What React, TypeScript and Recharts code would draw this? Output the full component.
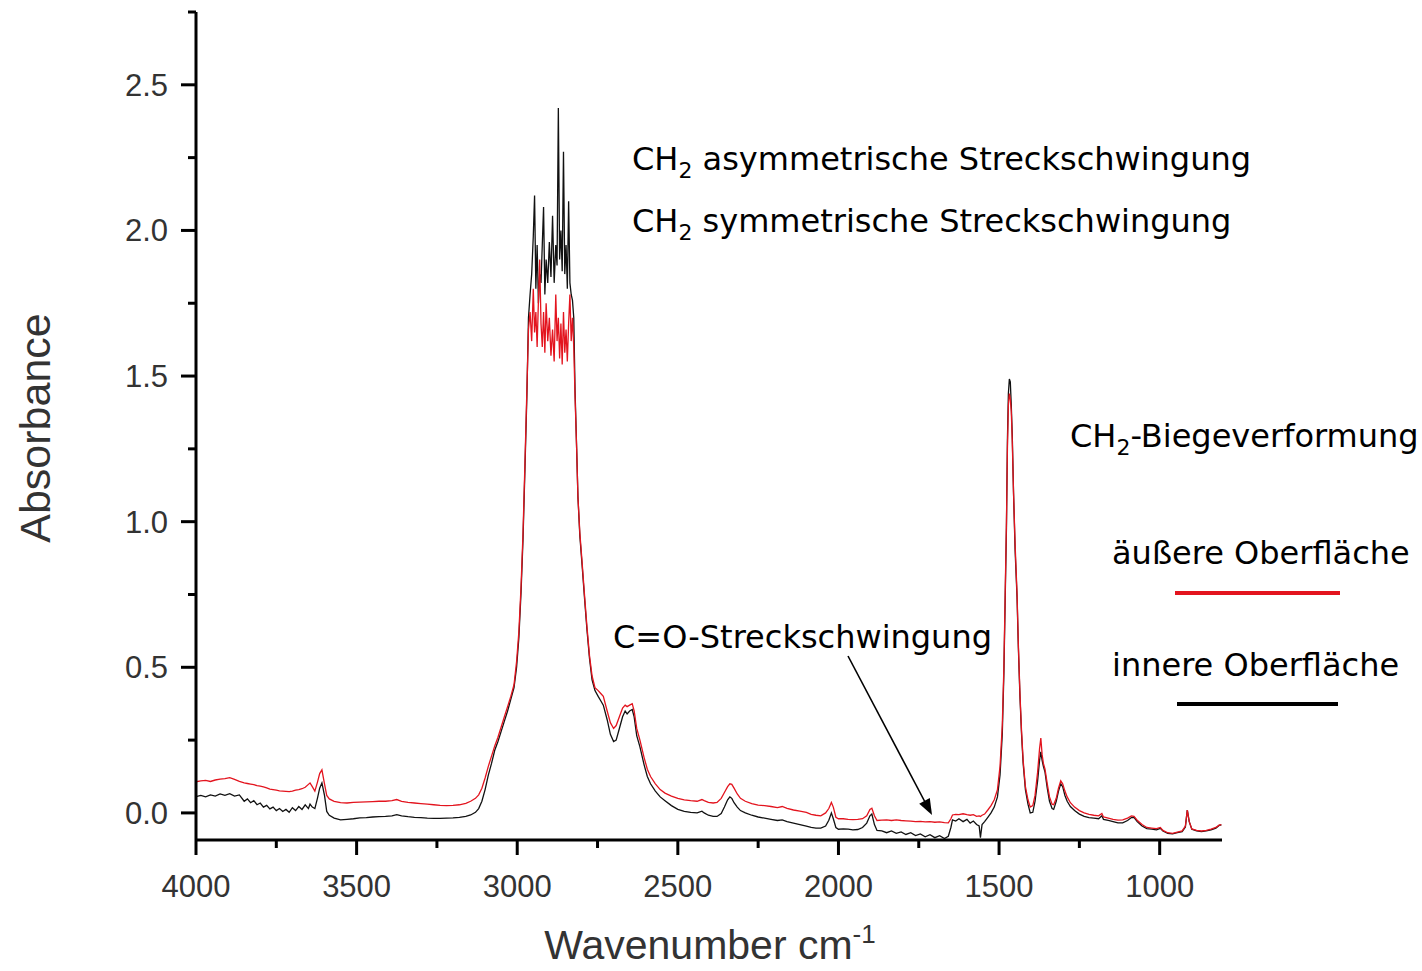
import { LineChart, Line, XAxis, YAxis } from 'recharts';

// FTIR spectrum (wavenumber in cm-1, absorbance)
const wavenumbers = [
  4000, 3985, 3970, 3955, 3940, 3925, 3910, 3895, 3880, 3865,
  3850, 3840, 3830, 3820, 3810, 3800, 3790, 3780, 3770, 3760,
  3750, 3740, 3730, 3720, 3710, 3700, 3690, 3680, 3670, 3660,
  3650, 3645, 3638, 3630, 3622, 3615, 3608, 3600, 3593, 3585,
  3570, 3550, 3530, 3510, 3490, 3470, 3450, 3430, 3410, 3390,
  3375, 3360, 3340, 3320, 3300, 3280, 3260, 3240, 3220, 3200,
  3180, 3160, 3145, 3130, 3120, 3110, 3100, 3090, 3080, 3070,
  3060, 3050, 3040, 3030, 3020, 3010, 3002, 2995, 2988, 2982,
  2976, 2970, 2965, 2960, 2955, 2950, 2946, 2942, 2938, 2934,
  2930, 2926, 2922, 2918, 2914, 2910, 2905, 2900, 2895, 2890,
  2885, 2880, 2876, 2872, 2868, 2864, 2860, 2856, 2852, 2848,
  2844, 2840, 2836, 2832, 2828, 2824, 2820, 2815, 2811, 2805,
  2798, 2790, 2783, 2775, 2767, 2758, 2748, 2740, 2732, 2720,
  2710, 2700, 2692, 2682, 2672, 2664, 2658, 2650, 2642, 2636,
  2628, 2618, 2605, 2595, 2585, 2570, 2555, 2540, 2520, 2500,
  2480, 2460, 2440, 2425, 2418, 2405, 2390, 2378, 2365, 2355,
  2345, 2338, 2332, 2325, 2315, 2305, 2290, 2270, 2250, 2230,
  2210, 2190, 2175, 2160, 2140, 2120, 2100, 2085, 2070, 2055,
  2040, 2030, 2022, 2016, 2008, 2000, 1985, 1970, 1955, 1940,
  1925, 1912, 1902, 1896, 1888, 1880, 1865, 1850, 1835, 1820,
  1805, 1790, 1775, 1760, 1745, 1730, 1715, 1700, 1685, 1670,
  1658, 1650, 1645, 1635, 1625, 1612, 1600, 1590, 1580, 1570,
  1562, 1558, 1553, 1545, 1535, 1525, 1515, 1505, 1497, 1490,
  1485, 1481, 1477, 1474, 1471, 1468, 1465, 1462, 1459, 1455,
  1450, 1444, 1440, 1435, 1430, 1425, 1418, 1410, 1403, 1395,
  1388, 1380, 1374, 1370, 1366, 1362, 1357, 1350, 1343, 1335,
  1330, 1322, 1315, 1308, 1302, 1295, 1288, 1278, 1265, 1250,
  1235, 1220, 1205, 1190, 1180, 1175, 1160, 1145, 1130, 1115,
  1100, 1088, 1080, 1070, 1055, 1040, 1025, 1010, 998, 990,
  975, 960, 945, 930, 920, 914, 908, 900, 885, 870,
  855, 840, 825, 815, 808,
];

// äußere Oberfläche (red)
const outerSurface = [
  0.107, 0.110, 0.112, 0.108, 0.113, 0.116, 0.118, 0.121, 0.115, 0.108,
  0.103, 0.101, 0.099, 0.097, 0.094, 0.092, 0.089, 0.086, 0.082, 0.080,
  0.078, 0.076, 0.075, 0.074, 0.073, 0.075, 0.078, 0.080, 0.083, 0.088,
  0.098, 0.103, 0.090, 0.075, 0.105, 0.135, 0.148, 0.100, 0.060, 0.048,
  0.040, 0.035, 0.034, 0.036, 0.037, 0.038, 0.039, 0.040, 0.040, 0.042,
  0.046, 0.040, 0.036, 0.034, 0.032, 0.030, 0.028, 0.026, 0.025, 0.026,
  0.028, 0.033, 0.040, 0.050, 0.062, 0.085, 0.120, 0.160, 0.195, 0.230,
  0.260, 0.295, 0.330, 0.365, 0.400, 0.440, 0.520, 0.620, 0.780, 0.960,
  1.200, 1.450, 1.660, 1.720, 1.620, 1.800, 1.650, 1.720, 1.600, 1.760,
  1.900, 1.680, 1.600, 1.720, 1.580, 1.750, 1.620, 1.700, 1.570, 1.660,
  1.550, 1.780, 1.620, 1.700, 1.560, 1.680, 1.540, 1.720, 1.580, 1.660,
  1.550, 1.680, 1.780, 1.620, 1.700, 1.600, 1.430, 1.250, 1.085, 0.960,
  0.860, 0.740, 0.640, 0.540, 0.470, 0.430, 0.420, 0.410, 0.400, 0.350,
  0.310, 0.290, 0.300, 0.330, 0.360, 0.370, 0.365, 0.370, 0.375, 0.350,
  0.290, 0.250, 0.190, 0.150, 0.125, 0.100, 0.080, 0.068, 0.058, 0.050,
  0.045, 0.042, 0.040, 0.046, 0.042, 0.036, 0.034, 0.036, 0.050, 0.070,
  0.090, 0.100, 0.098, 0.085, 0.065, 0.050, 0.040, 0.032, 0.027, 0.025,
  0.022, 0.018, 0.022, 0.016, 0.010, 0.006, 0.002, -0.005, -0.008, -0.010,
  0.000, 0.015, 0.036, 0.020, -0.015, -0.020, -0.020, -0.022, -0.023, -0.022,
  -0.020, -0.010, 0.012, 0.016, -0.010, -0.026, -0.025, -0.024, -0.026, -0.024,
  -0.026, -0.027, -0.028, -0.030, -0.029, -0.031, -0.030, -0.032, -0.031, -0.033,
  -0.034, -0.020, -0.007, -0.005, -0.006, -0.003, -0.006, -0.008, -0.006, -0.012,
  -0.010, -0.012, -0.008, -0.004, 0.010, 0.025, 0.045, 0.080, 0.160, 0.300,
  0.500, 0.750, 1.000, 1.250, 1.400, 1.440, 1.420, 1.380, 1.280, 1.100,
  0.920, 0.750, 0.580, 0.410, 0.280, 0.180, 0.090, 0.045, 0.020, 0.025,
  0.060, 0.140, 0.220, 0.257, 0.200, 0.170, 0.150, 0.100, 0.055, 0.030,
  0.028, 0.050, 0.085, 0.110, 0.100, 0.075, 0.055, 0.035, 0.020, 0.008,
  0.000, -0.005, -0.008, -0.010, -0.002, -0.014, -0.018, -0.022, -0.025, -0.024,
  -0.018, -0.010, -0.012, -0.025, -0.040, -0.050, -0.052, -0.054, -0.050, -0.060,
  -0.068, -0.070, -0.066, -0.062, -0.045, 0.010, -0.030, -0.055, -0.060, -0.062,
  -0.060, -0.056, -0.050, -0.042, -0.040,
];

// innere Oberfläche (black)
const innerSurface = [
  0.056, 0.060, 0.055, 0.062, 0.058, 0.065, 0.060, 0.066, 0.058, 0.062,
  0.040, 0.048, 0.035, 0.042, 0.028, 0.034, 0.020, 0.026, 0.014, 0.020,
  0.008, 0.015, 0.005, 0.012, 0.002, 0.018, 0.008, 0.022, 0.012, 0.028,
  0.015, 0.030, 0.020, 0.015, 0.050, 0.085, 0.103, 0.060, 0.005, -0.008,
  -0.018, -0.024, -0.022, -0.020, -0.017, -0.016, -0.014, -0.013, -0.012, -0.010,
  -0.006, -0.010, -0.013, -0.015, -0.016, -0.018, -0.019, -0.019, -0.018, -0.017,
  -0.015, -0.012, -0.007, 0.002, 0.015, 0.040, 0.080, 0.130, 0.170, 0.215,
  0.245, 0.280, 0.315, 0.350, 0.390, 0.430, 0.500, 0.600, 0.760, 0.940,
  1.180, 1.430, 1.700, 1.780, 1.850, 1.980, 2.120, 1.800, 1.950, 1.750,
  1.850, 1.820, 1.950, 2.080, 1.780, 1.900, 1.820, 1.960, 1.840, 2.050,
  1.820, 1.950, 1.880, 2.420, 1.900, 2.000, 1.860, 2.270, 1.850, 1.950,
  1.800, 2.100, 1.820, 1.780, 1.760, 1.700, 1.450, 1.250, 1.085, 0.950,
  0.850, 0.730, 0.630, 0.530, 0.457, 0.420, 0.400, 0.385, 0.370, 0.320,
  0.270, 0.245, 0.250, 0.290, 0.330, 0.350, 0.340, 0.350, 0.355, 0.330,
  0.265, 0.227, 0.165, 0.125, 0.100, 0.075, 0.055, 0.042, 0.025, 0.012,
  0.005, 0.002, 0.000, 0.006, 0.000, -0.008, -0.012, -0.012, -0.002, 0.020,
  0.045, 0.055, 0.050, 0.035, 0.020, 0.008, 0.000, -0.008, -0.014, -0.018,
  -0.022, -0.026, -0.024, -0.030, -0.035, -0.040, -0.045, -0.050, -0.052, -0.052,
  -0.045, -0.025, 0.000, -0.020, -0.050, -0.056, -0.055, -0.056, -0.058, -0.057,
  -0.050, -0.035, -0.010, -0.004, -0.040, -0.060, -0.062, -0.068, -0.062, -0.070,
  -0.065, -0.074, -0.068, -0.078, -0.072, -0.082, -0.075, -0.085, -0.078, -0.088,
  -0.080, -0.050, -0.024, -0.028, -0.020, -0.030, -0.022, -0.035, -0.028, -0.040,
  -0.045, -0.085, -0.040, -0.030, -0.015, 0.000, 0.020, 0.055, 0.130, 0.270,
  0.480, 0.730, 0.980, 1.280, 1.440, 1.490, 1.480, 1.400, 1.300, 1.100,
  0.900, 0.740, 0.570, 0.400, 0.270, 0.170, 0.080, 0.030, 0.000, 0.002,
  0.040, 0.110, 0.180, 0.210, 0.180, 0.160, 0.140, 0.085, 0.040, 0.015,
  0.012, 0.040, 0.075, 0.100, 0.090, 0.060, 0.040, 0.022, 0.008, -0.004,
  -0.012, -0.016, -0.018, -0.020, -0.010, -0.022, -0.026, -0.030, -0.034, -0.034,
  -0.026, -0.016, -0.015, -0.030, -0.045, -0.054, -0.056, -0.058, -0.053, -0.062,
  -0.070, -0.072, -0.068, -0.064, -0.048, 0.010, -0.030, -0.056, -0.062, -0.064,
  -0.062, -0.058, -0.052, -0.043, -0.041,
];

const xMajorTicks = [4000, 3500, 3000, 2500, 2000, 1500, 1000];
const xMinorTicks = [3750, 3250, 2750, 2250, 1750, 1250];
const yMajorTicks = [0, 0.5, 1, 1.5, 2, 2.5];
const yMinorTicks = [0.25, 0.75, 1.25, 1.75, 2.25, 2.75];

const spectrum = wavenumbers.map((wn, i) => ({
  wn,
  outer: outerSurface[i],
  inner: innerSurface[i],
}));

const axisFont = '"Liberation Sans", Arial, sans-serif';
const noteFont = '"DejaVu Sans", Verdana, sans-serif';
const RED = '#e3141e';

const XTick = (props: any) => {
  const { x, y, payload } = props;
  const major = xMajorTicks.includes(payload.value);
  return (
    <g>
      <line x1={x} y1={y} x2={x} y2={y + (major ? 15 : 8)} stroke="#000" strokeWidth={3} />
      {major && (
        <text x={x} y={y + 57} textAnchor="middle" fontSize={31} fill="#333" fontFamily={axisFont}>
          {payload.value}
        </text>
      )}
    </g>
  );
};

const YTick = (props: any) => {
  const { x, y, payload } = props;
  const major = yMajorTicks.includes(payload.value);
  return (
    <g>
      <line x1={x - (major ? 15 : 8)} y1={y} x2={x} y2={y} stroke="#000" strokeWidth={3} />
      {major && (
        <text x={x - 28} y={y + 11} textAnchor="end" fontSize={31} fill="#333" fontFamily={axisFont}>
          {payload.value.toFixed(1)}
        </text>
      )}
    </g>
  );
};

// "CH₂" followed by the rest of the label, back on the baseline
const Ch2Label = ({ x, y, rest }: { x: number; y: number; rest: string }) => (
  <text x={x} y={y}>
    CH
    <tspan dy={8} fontSize={22}>2</tspan>
    <tspan dy={-8}>{rest}</tspan>
  </text>
);

const App = () => {
  return (
    <div style={{ position: 'absolute', left: 0, top: 0, width: 1422, height: 971, background: '#fff' }}>
      <LineChart
        width={1422}
        height={971}
        data={spectrum}
        margin={{ top: 12, right: 200, bottom: 71, left: 116 }}
      >
        <XAxis
          type="number"
          dataKey="wn"
          domain={[806, 4000]}
          reversed
          allowDataOverflow
          ticks={[...xMajorTicks, ...xMinorTicks].sort((a, b) => b - a)}
          interval={0}
          tickSize={0}
          tickMargin={0}
          tick={XTick}
          axisLine={{ stroke: '#000', strokeWidth: 3 }}
          height={60}
        />
        <YAxis
          type="number"
          domain={[-0.093, 2.75]}
          allowDataOverflow
          ticks={[...yMajorTicks, ...yMinorTicks].sort((a, b) => a - b)}
          interval={0}
          tickSize={0}
          tickMargin={0}
          tick={YTick}
          axisLine={{ stroke: '#000', strokeWidth: 3 }}
          width={80}
        />
        <Line type="linear" dataKey="inner" stroke="#111" strokeWidth={1.3} dot={false} isAnimationActive={false} />
        <Line type="linear" dataKey="outer" stroke={RED} strokeWidth={1.3} dot={false} isAnimationActive={false} />
      </LineChart>

      <svg width={1422} height={971} style={{ position: 'absolute', left: 0, top: 0, pointerEvents: 'none' }}>
        {/* axis titles */}
        <text x={710} y={959} textAnchor="middle" fontSize={41} fill="#333" fontFamily={axisFont}>
          Wavenumber cm<tspan dy={-16} fontSize={26}>-1</tspan>
        </text>
        <text transform="translate(50,428) rotate(-90)" textAnchor="middle" fontSize={43} fill="#333" fontFamily={axisFont}>
          Absorbance
        </text>

        {/* band annotations */}
        <g fontFamily={noteFont} fontSize={32} fill="#000">
          <Ch2Label x={632} y={170} rest=" asymmetrische Streckschwingung" />
          <Ch2Label x={632} y={232} rest=" symmetrische Streckschwingung" />
          <Ch2Label x={1070} y={447} rest="-Biegeverformung" />
          <text x={613} y={648}>C=O-Streckschwingung</text>
          <text x={1112} y={564}>äußere Oberfläche</text>
          <text x={1112} y={676}>innere Oberfläche</text>
        </g>

        {/* legend swatches */}
        <rect x={1175} y={591} width={165} height={4} fill={RED} />
        <rect x={1177} y={702} width={161} height={4} fill="#000" />

        {/* arrow to the C=O band */}
        <line x1={848} y1={656} x2={925} y2={802} stroke="#000" strokeWidth={1.6} />
        <polygon points="932,815 929.8,798.1 919.2,803.7" fill="#000" />
      </svg>
    </div>
  );
};

export default App;
